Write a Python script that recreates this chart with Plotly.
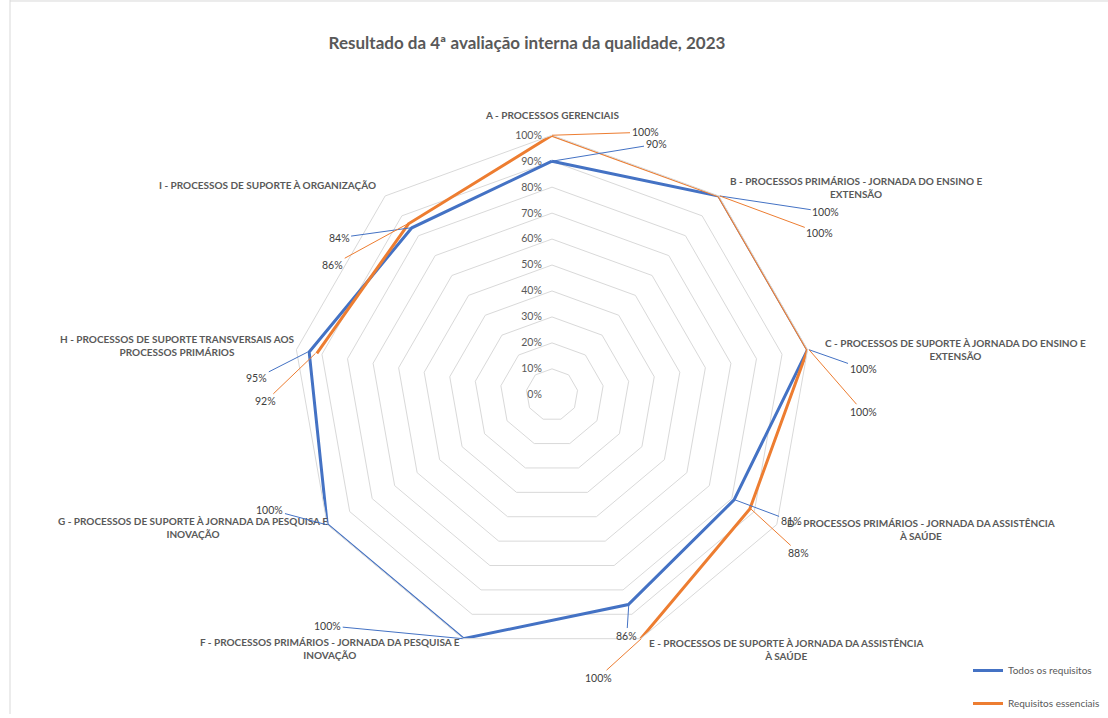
import math
import plotly.graph_objects as go

categories = [
    "A - PROCESSOS GERENCIAIS",
    "B - PROCESSOS PRIMÁRIOS - JORNADA DO ENSINO E<br>EXTENSÃO",
    "C - PROCESSOS DE SUPORTE À JORNADA DO ENSINO E<br>EXTENSÃO",
    "D - PROCESSOS PRIMÁRIOS - JORNADA DA ASSISTÊNCIA<br>À SAÚDE",
    "E - PROCESSOS DE SUPORTE À JORNADA DA ASSISTÊNCIA<br>À SAÚDE",
    "F - PROCESSOS PRIMÁRIOS - JORNADA DA PESQUISA E<br>INOVAÇÃO",
    "G - PROCESSOS DE SUPORTE À JORNADA DA PESQUISA E<br>INOVAÇÃO",
    "H - PROCESSOS DE SUPORTE TRANSVERSAIS AOS<br>PROCESSOS PRIMÁRIOS",
    "I - PROCESSOS DE SUPORTE À ORGANIZAÇÃO",
]
todos = [90, 100, 100, 81, 86, 100, 100, 95, 84]
essenciais = [100, 100, 100, 88, 100, None, None, 92, 86]
radial_ticks = [0, 10, 20, 30, 40, 50, 60, 70, 80, 90, 100]
radial_labels = [f"{v}%" for v in radial_ticks]
series_names = ["Todos os requisitos", "Requisitos essenciais"]
title_text = "Resultado da 4ª avaliação interna da qualidade, 2023"

BLUE = "#4472C4"
ORANGE = "#ED7D31"
GRAY = "#595959"
FONT = "Lato"

# label offsets (pixels) for data labels: (ax, ay)
blue_offsets = [(104, -17), (106, 16), (54, 19), (56, 21), (-2, 31), (-135, -13), (-56, -15), (-51, 26), (-72, 10)]
orange_offsets = [(93, -3), (100, 37), (54, 62), (48, 44), (-43, 39), None, None, (-50, 48), (-75, 41)]
# category label placement: (xanchor, xshift, yshift) in pixels
cat_place = [("center", 0, 20), ("left", 8, 8), ("left", 14, 0), ("left", 7, -5), ("left", 6, -11),
             ("right", -1, -10), ("right", 4, -3), ("right", 1, 4), ("right", -6, 11)]

# polar domain in paper units (square in pixels)
W, H = 1108, 718
cx, cy, R = 552, 397, 261
dom_x = [(cx - R) / W, (cx + R) / W]
dom_y = [(H - (cy + R)) / H, (H - (cy - R)) / H]

theta = categories + [categories[0]]

fig = go.Figure()
fig.add_trace(go.Scatterpolar(
    r=todos + [todos[0]], theta=theta, mode="lines", name=series_names[0],
    line=dict(color=BLUE, width=3), legendgroup="a", connectgaps=False,
))
fig.add_trace(go.Scatterpolar(
    r=essenciais + [essenciais[0]], theta=theta, mode="lines", name=series_names[1],
    line=dict(color=ORANGE, width=3), legendgroup="b", connectgaps=False,
))
# invisible cartesian overlay used to place labels
fig.add_trace(go.Scatter(x=[None], y=[None], xaxis="x", yaxis="y", showlegend=False, hoverinfo="skip"))

annotations = []
n = len(categories)
rmax = radial_ticks[-1]
for k, cat in enumerate(categories):
    ang = math.radians(90 - 360 / n * k)
    xa, xs, ys = cat_place[k]
    annotations.append(dict(
        x=rmax * math.cos(ang), y=rmax * math.sin(ang), xref="x", yref="y",
        text=cat, showarrow=False, xanchor=xa, yanchor="middle", xshift=xs, yshift=ys,
        align="center", font=dict(family=FONT, size=10, color=GRAY, weight="bold"),
    ))
for vals, offs, col in [(todos, blue_offsets, BLUE), (essenciais, orange_offsets, ORANGE)]:
    for k, v in enumerate(vals):
        if v is None or offs[k] is None:
            continue
        ang = math.radians(90 - 360 / n * k)
        annotations.append(dict(
            x=v * math.cos(ang), y=v * math.sin(ang), xref="x", yref="y",
            text=f"{v}%", showarrow=True, arrowhead=0, arrowwidth=1,
            arrowcolor=col, ax=offs[k][0], ay=offs[k][1], standoff=0,
            font=dict(family=FONT, size=10.5, color="#404040"),
        ))

fig.update_layout(
    width=W, height=H,
    margin=dict(l=0, r=0, t=0, b=0),
    paper_bgcolor="white", plot_bgcolor="rgba(0,0,0,0)",
    title=dict(text=title_text, x=527 / W, xanchor="center", y=1 - 43 / H, yanchor="middle",
               font=dict(family=FONT, size=17, color=GRAY, weight="bold")),
    polar=dict(
        domain=dict(x=dom_x, y=dom_y),
        bgcolor="rgba(0,0,0,0)",
        gridshape="linear",
        radialaxis=dict(
            range=[0, rmax], tickmode="array", tickvals=radial_ticks, ticktext=radial_labels,
            angle=90, side="counterclockwise", tickangle=90,
            showline=False, ticks="outside", ticklen=6, tickcolor="rgba(0,0,0,0)",
            gridcolor="#d9d9d9", gridwidth=1,
            tickfont=dict(family=FONT, size=10.5, color=GRAY),
        ),
        angularaxis=dict(
            rotation=90, direction="clockwise", showgrid=False,
            showline=True, linecolor="#d9d9d9", linewidth=1, ticks="",
            showticklabels=False,
        ),
    ),
    xaxis=dict(domain=dom_x, range=[-rmax, rmax], visible=False, fixedrange=True),
    yaxis=dict(domain=dom_y, range=[-rmax, rmax], visible=False, fixedrange=True),
    legend=dict(x=968 / W, xanchor="left", y=(H - 660) / H, yanchor="top",
                tracegroupgap=14, font=dict(family=FONT, size=10, color=GRAY),
                bgcolor="rgba(0,0,0,0)"),
    annotations=annotations,
    shapes=[
        dict(type="line", xref="paper", yref="paper", x0=10 / W, x1=10 / W, y0=0, y1=1,
             line=dict(color="#d9d9d9", width=1)),
        dict(type="line", xref="paper", yref="paper", x0=10 / W, x1=1, y0=1 - 1 / H, y1=1 - 1 / H,
             line=dict(color="#d9d9d9", width=1)),
    ],
)

fig.write_html("out.html")
